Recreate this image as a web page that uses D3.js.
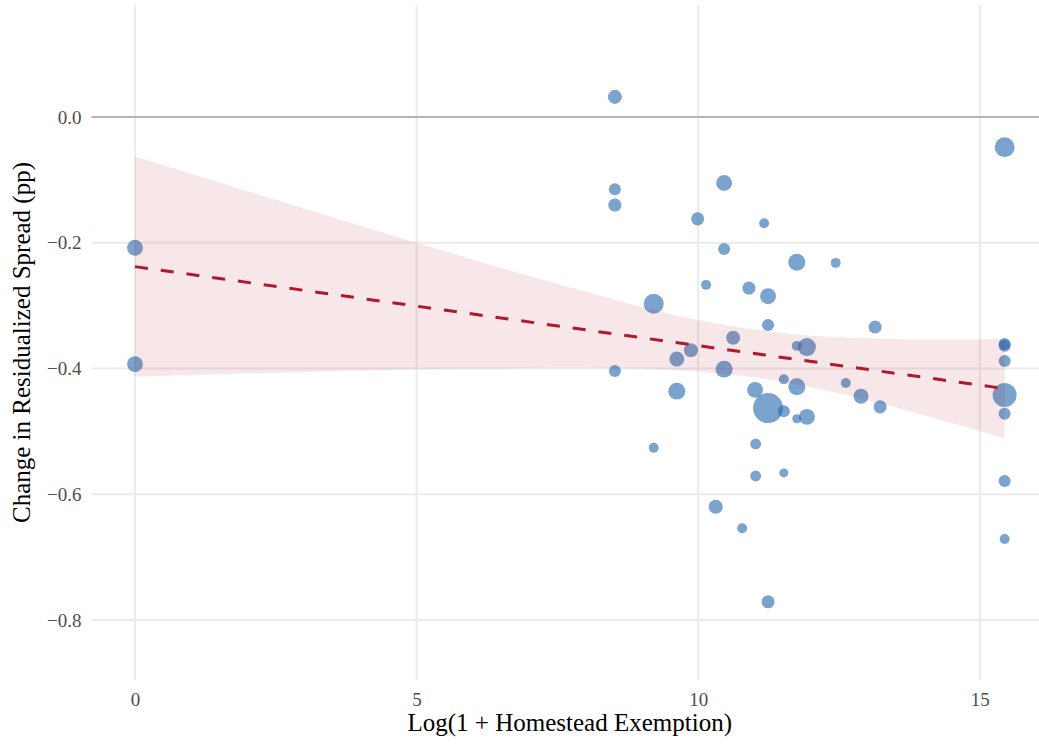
<!DOCTYPE html>
<html>
<head>
<meta charset="utf-8">
<script src="https://cdn.jsdelivr.net/npm/d3@7/dist/d3.min.js"></script>
<style>
  html, body { margin: 0; padding: 0; background: #fff; }
  svg { display: block; }
</style>
</head>
<body>
<svg id="chart" width="1039" height="746"></svg>
<script>
// ---- data ----
const homesteadX = [8.52, 8.52, 8.52, 8.52, 0, 0, 9.21, 9.21, 9.99, 10.46,
  10.46, 10.14, 11.17, 10.90, 11.24, 11.24, 11.75, 12.44, 13.14, 10.62,
  9.87, 9.62, 10.46, 9.62, 11.75, 11.93, 11.52, 11.01, 11.24, 11.52,
  11.75, 11.75, 11.93, 12.62, 12.89, 13.23, 11.02, 11.02, 11.52, 10.31,
  10.78, 11.24, 15.44, 15.44, 15.44, 15.44, 15.44, 15.44, 15.44, 15.44];
const spreadChange = [0.032, -0.115, -0.140, -0.404, -0.208, -0.393, -0.297, -0.526, -0.162, -0.105,
  -0.210, -0.267, -0.169, -0.272, -0.285, -0.331, -0.231, -0.232, -0.334, -0.351,
  -0.371, -0.385, -0.401, -0.436, -0.364, -0.366, -0.417, -0.434, -0.463, -0.468,
  -0.429, -0.480, -0.477, -0.423, -0.444, -0.461, -0.520, -0.571, -0.566, -0.620,
  -0.654, -0.771, -0.048, -0.361, -0.364, -0.388, -0.442, -0.472, -0.579, -0.671];
const pointWeight = [22, 16, 19, 16, 28, 28, 44, 11, 19, 28,
  16, 11, 11, 19, 28, 16, 32, 11, 19, 22,
  22, 25, 32, 32, 11, 36, 11, 28, 100, 16,
  32, 9, 28, 11, 25, 19, 13, 13, 9, 22,
  11, 19, 44, 16, 16, 16, 64, 16, 16, 11];

// fitted line and confidence band
const fitX = [0, 15.44];
const fitY = [-0.238, -0.432];
const bandX = [0, 2, 4, 6, 8, 9, 10, 11, 12, 13, 14, 15.44];
const bandLower = [-0.413, -0.408, -0.403, -0.400, -0.399, -0.400, -0.405, -0.414, -0.430, -0.450, -0.474, -0.511];
const bandUpper = [-0.063, -0.118, -0.173, -0.227, -0.278, -0.302, -0.323, -0.338, -0.348, -0.352, -0.354, -0.353];

const xTicks = [0, 5, 10, 15];
const yTicks = [0.0, -0.2, -0.4, -0.6, -0.8];
const xTitle = "Log(1 + Homestead Exemption)";
const yTitle = "Change in Residualized Spread (pp)";

// ---- layout ----
const svg = d3.select("#chart");
const panel = { left: 91.5, right: 1048, top: 5, bottom: 680 };
const x = d3.scaleLinear().domain([-0.772, 16.21]).range([panel.left, panel.right]);
const y = d3.scaleLinear().domain([-0.8954, 0.1781]).range([panel.bottom, panel.top]);
const r = d3.scaleSqrt().domain([0, 100]).range([0, 15]);

const font = "'Liberation Serif', 'Times New Roman', serif";

// gridlines
const grid = svg.append("g");
grid.selectAll("line.h").data(yTicks).join("line")
  .attr("x1", panel.left).attr("x2", panel.right)
  .attr("y1", d => y(d)).attr("y2", d => y(d))
  .attr("stroke", "#ebebeb").attr("stroke-width", 2);
grid.selectAll("line.v").data(xTicks).join("line")
  .attr("x1", d => x(d)).attr("x2", d => x(d))
  .attr("y1", panel.top).attr("y2", panel.bottom)
  .attr("stroke", "#ebebeb").attr("stroke-width", 2);

// zero reference line
svg.append("line")
  .attr("x1", panel.left).attr("x2", panel.right)
  .attr("y1", y(0)).attr("y2", y(0))
  .attr("stroke", "#b3b3b3").attr("stroke-width", 2);

// points
const pts = homesteadX.map((d, i) => ({ x: d, y: spreadChange[i], w: pointWeight[i] }));
svg.append("g").selectAll("circle").data(pts).join("circle")
  .attr("cx", d => x(d.x)).attr("cy", d => y(d.y)).attr("r", d => r(d.w))
  .attr("fill", "#2166AC").attr("fill-opacity", 0.6);

// confidence band
const band = bandX.map((d, i) => ({ x: d, lo: bandLower[i], hi: bandUpper[i] }));
svg.append("path").datum(band)
  .attr("d", d3.area().x(d => x(d.x)).y0(d => y(d.lo)).y1(d => y(d.hi)).curve(d3.curveMonotoneX))
  .attr("fill", "#B2182B").attr("fill-opacity", 0.1);

// fitted line
const fit = fitX.map((d, i) => ({ x: d, y: fitY[i] }));
svg.append("path").datum(fit)
  .attr("d", d3.line().x(d => x(d.x)).y(d => y(d.y)))
  .attr("fill", "none").attr("stroke", "#B2182B").attr("stroke-width", 3)
  .attr("stroke-dasharray", "13,13");

// axes (text only, like theme_minimal)
const xAxis = svg.append("g").attr("transform", `translate(0,${panel.bottom})`)
  .call(d3.axisBottom(x).tickValues(xTicks).tickFormat(d3.format("d")).tickSize(0).tickPadding(13));
const yAxis = svg.append("g").attr("transform", `translate(${panel.left},0)`)
  .call(d3.axisLeft(y).tickValues(yTicks).tickFormat(d => d3.format(".1f")(d).replace("-", "\u2212")).tickSize(0).tickPadding(10));
[xAxis, yAxis].forEach(g => {
  g.select(".domain").remove();
  g.selectAll("text").attr("font-family", font).attr("font-size", 19).attr("fill", "#4d4d4d");
});

// titles
svg.append("text")
  .attr("x", (panel.left + panel.right) / 2).attr("y", 731)
  .attr("text-anchor", "middle").attr("font-family", font).attr("font-size", 25)
  .attr("fill", "#000").text(xTitle);
svg.append("text")
  .attr("transform", `translate(30,${(panel.top + panel.bottom) / 2}) rotate(-90)`)
  .attr("text-anchor", "middle").attr("font-family", font).attr("font-size", 25)
  .attr("fill", "#000").text(yTitle);
</script>
</body>
</html>
